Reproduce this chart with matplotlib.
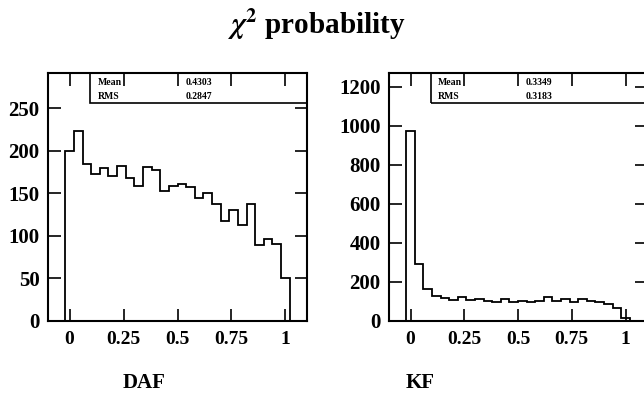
import numpy as np
import matplotlib
matplotlib.use("Agg")
import matplotlib.pyplot as plt
from matplotlib.patches import Rectangle

plt.rcParams['font.family'] = ['Liberation Serif', 'DejaVu Serif']
plt.rcParams['font.weight'] = 'bold'
plt.rcParams['mathtext.fontset'] = 'stix'

# ---- data ----
bin_lo, bin_hi, n_bins = -0.02, 1.02, 26
daf_counts = [200, 223, 184, 173, 180, 170, 182, 168, 159, 181, 178, 153, 159,
              161, 158, 145, 150, 137, 117, 130, 113, 137, 89, 96, 91, 50]
kf_counts = [973, 290, 162, 130, 116, 107, 121, 106, 114, 102, 99, 111, 97,
             100, 99, 102, 125, 102, 111, 96, 111, 101, 96, 85, 68, 17]
daf_stats = {"Mean": "0.4303", "RMS": "0.2847"}
kf_stats = {"Mean": "0.3349", "RMS": "0.3183"}
x_ticks = [0, 0.25, 0.5, 0.75, 1]
x_ticklabels = ["0", "0.25", "0.5", "0.75", "1"]
daf_yticks = [0, 50, 100, 150, 200, 250]
kf_yticks = [0, 200, 400, 600, 800, 1000, 1200]
title = r"$\chi^{\mathbf{2}}$ probability"
labels = ["DAF", "KF"]

W, H = 644, 396
fig = plt.figure(figsize=(W / 100, H / 100), dpi=100)

edges = np.linspace(bin_lo, bin_hi, n_bins + 1)

def make_panel(rect, counts, yticks, ymax, stats):
    ax = fig.add_axes(rect)
    ax.stairs(counts, edges, color='black', linewidth=1.3, baseline=0)
    ax.set_xlim(-0.1, 1.1)
    ax.set_ylim(0, ymax)
    ax.set_xticks(x_ticks)
    ax.set_xticklabels(x_ticklabels)
    ax.set_yticks(yticks)
    ax.tick_params(direction='in', length=9, width=1.2, top=True, right=True, pad=7)
    ax.tick_params(axis='x', labelsize=14)
    ax.tick_params(axis='y', labelsize=15, pad=6)
    for lab in ax.get_xticklabels() + ax.get_yticklabels():
        lab.set_fontweight('bold')
    for s in ax.spines.values():
        s.set_linewidth(1.5)
    # stats box
    bx0, by0 = 0.161, 0.88
    ax.add_patch(Rectangle((bx0, by0), 1.0 - bx0, 1.0 - by0, transform=ax.transAxes,
                           fill=False, edgecolor='black', linewidth=1.2, clip_on=False))
    rows = list(stats.items())
    for i, (k, v) in enumerate(rows):
        yy = 0.962 - i * 0.056
        ax.text(bx0 + 0.03, yy, k, transform=ax.transAxes, fontsize=7,
                fontweight='bold', va='center', ha='left')
        ax.text(bx0 + 0.37, yy, v, transform=ax.transAxes, fontsize=7,
                fontweight='bold', va='center', ha='left')
    return ax

ax1 = make_panel([48 / W, (H - 321) / H, 259 / W, 248 / H], daf_counts, daf_yticks, 291.5, daf_stats)
ax2 = make_panel([389 / W, (H - 321) / H, 258 / W, 248 / H], kf_counts, kf_yticks, 1270, kf_stats)

fig.text(317 / W, 1 - 34 / H, title, ha='center', va='baseline', fontsize=21, fontweight='bold')
fig.text(144 / W, 1 - 388 / H, labels[0], ha='center', va='baseline', fontsize=15, fontweight='bold')
fig.text(420 / W, 1 - 388 / H, labels[1], ha='center', va='baseline', fontsize=15, fontweight='bold')

fig.savefig("out.png", dpi=100)
